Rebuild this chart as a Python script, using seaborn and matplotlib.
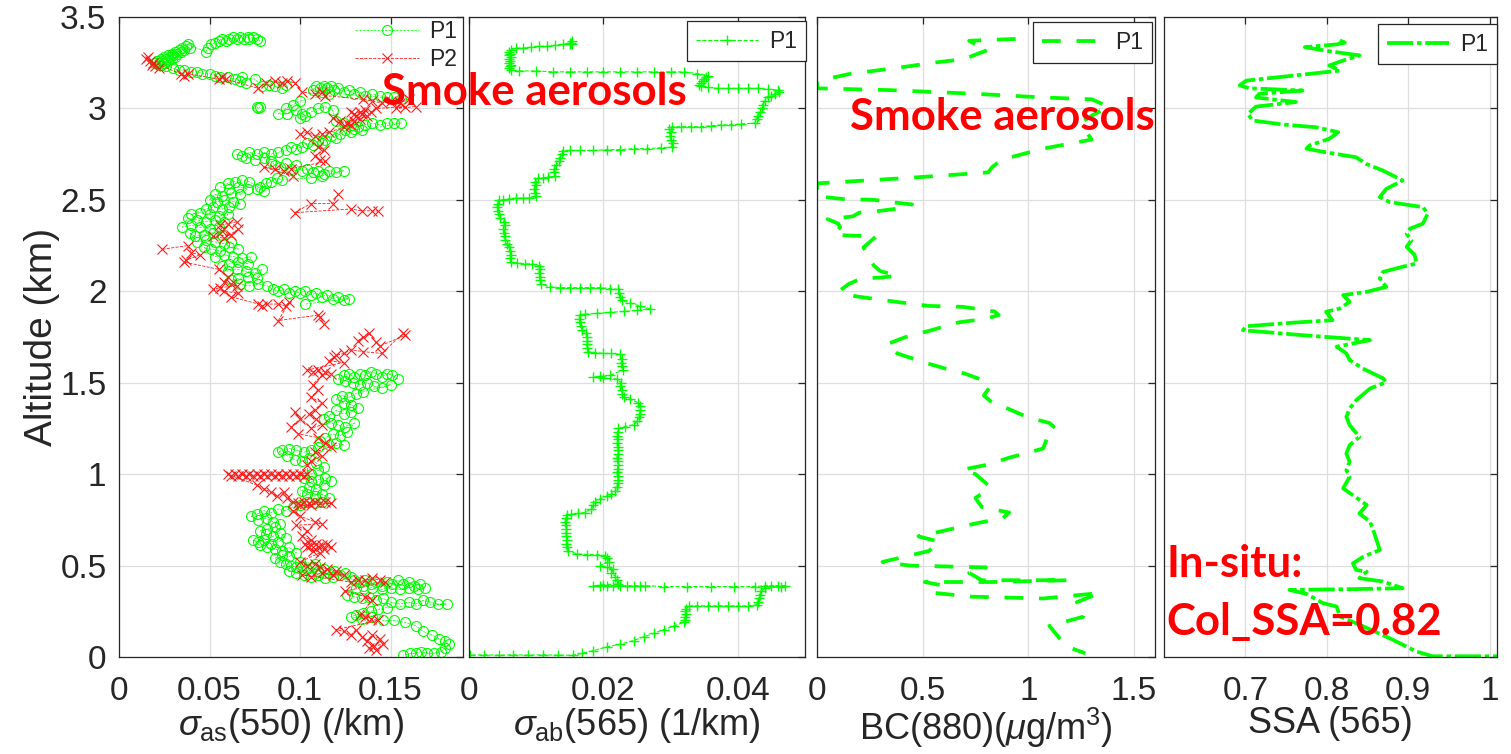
import matplotlib
matplotlib.use("Agg")
import matplotlib.pyplot as plt
import pandas as pd
import seaborn as sns
from matplotlib.ticker import FuncFormatter

# ---------------------------------------------------------------------------
# Vertical profiles: (value, altitude km) pairs ordered along the flight track.
# Scattering profiles are split into the separate runs of the measurement.
# ---------------------------------------------------------------------------
# Scattering coefficient at 550 nm, profile P1
sigma_as_p1 = [
    [
        (0.078, 3.37), (0.076, 3.38), (0.074, 3.39), (0.072, 3.38), (0.071, 3.39), (0.069, 3.38),
        (0.067, 3.39), (0.065, 3.38), (0.063, 3.39), (0.061, 3.38), (0.059, 3.37), (0.057, 3.38),
        (0.055, 3.37), (0.053, 3.36), (0.051, 3.35), (0.049, 3.33), (0.048, 3.31),
        (0.038, 3.35), (0.037, 3.34), (0.039, 3.33), (0.035, 3.33), (0.036, 3.32), (0.033, 3.32),
        (0.034, 3.31), (0.031, 3.31), (0.032, 3.30), (0.029, 3.30), (0.030, 3.29), (0.027, 3.29),
        (0.028, 3.28), (0.025, 3.28), (0.026, 3.27), (0.023, 3.27), (0.024, 3.26), (0.021, 3.26),
        (0.022, 3.25), (0.020, 3.25), (0.023, 3.24), (0.025, 3.25), (0.027, 3.26), (0.029, 3.27),
        (0.031, 3.28),
        (0.026, 3.23), (0.030, 3.22), (0.033, 3.21), (0.036, 3.21), (0.040, 3.20), (0.043, 3.20),
        (0.046, 3.19), (0.050, 3.19), (0.053, 3.18), (0.056, 3.17), (0.060, 3.17), (0.064, 3.16),
        (0.067, 3.15), (0.070, 3.14), (0.068, 3.17), (0.075, 3.16),
        (0.079, 3.12), (0.083, 3.13), (0.086, 3.12), (0.090, 3.11), (0.092, 3.13),
    ],
    [(0.076, 3.01), (0.077, 3.00), (0.078, 3.01)],
    [
        (0.107, 3.10), (0.109, 3.12), (0.111, 3.11), (0.113, 3.12), (0.115, 3.11), (0.117, 3.12),
        (0.119, 3.10), (0.121, 3.11), (0.124, 3.09), (0.127, 3.10), (0.130, 3.08), (0.133, 3.09),
        (0.136, 3.07), (0.140, 3.08), (0.144, 3.07), (0.148, 3.06), (0.152, 3.06), (0.156, 3.05),
        (0.112, 3.09), (0.116, 3.08),
        (0.100, 3.04), (0.096, 3.02), (0.092, 3.00), (0.088, 2.97), (0.093, 2.97), (0.098, 2.99),
        (0.101, 2.97), (0.100, 2.95), (0.103, 2.96), (0.106, 2.98), (0.110, 3.00), (0.114, 3.01),
        (0.118, 2.99),
        (0.120, 2.93), (0.124, 2.92), (0.128, 2.91), (0.132, 2.90), (0.136, 2.91), (0.140, 2.92),
        (0.144, 2.91), (0.148, 2.92), (0.152, 2.92), (0.156, 2.92),
        (0.134, 2.88), (0.130, 2.89), (0.128, 2.87), (0.125, 2.88), (0.122, 2.86), (0.120, 2.84),
        (0.117, 2.85), (0.114, 2.83), (0.112, 2.81), (0.110, 2.82), (0.107, 2.80), (0.104, 2.81),
        (0.101, 2.79), (0.098, 2.78), (0.095, 2.79), (0.092, 2.77),
        (0.088, 2.76), (0.084, 2.75), (0.080, 2.76), (0.076, 2.75), (0.072, 2.76), (0.068, 2.74),
        (0.065, 2.75), (0.070, 2.73), (0.075, 2.72), (0.080, 2.73), (0.084, 2.71),
        (0.086, 2.69), (0.089, 2.68), (0.092, 2.70), (0.095, 2.67), (0.098, 2.69), (0.101, 2.66),
        (0.104, 2.67), (0.107, 2.65), (0.110, 2.66), (0.113, 2.64), (0.116, 2.66), (0.120, 2.65),
        (0.124, 2.66), (0.112, 2.63), (0.106, 2.62),
        (0.090, 2.61), (0.087, 2.62), (0.084, 2.60), (0.081, 2.59), (0.078, 2.57), (0.076, 2.56),
        (0.080, 2.55),
        (0.072, 2.60), (0.068, 2.61), (0.064, 2.60), (0.060, 2.59),
        (0.056, 2.57), (0.061, 2.56), (0.066, 2.57), (0.071, 2.56),
        (0.067, 2.53), (0.062, 2.54), (0.057, 2.52), (0.053, 2.53),
        (0.050, 2.50), (0.054, 2.49), (0.058, 2.50), (0.063, 2.49), (0.067, 2.48),
        (0.061, 2.46), (0.057, 2.45), (0.052, 2.46), (0.048, 2.45),
        (0.040, 2.42), (0.045, 2.43), (0.050, 2.42), (0.055, 2.41), (0.060, 2.42),
        (0.058, 2.38), (0.053, 2.39), (0.048, 2.38), (0.043, 2.39), (0.038, 2.40),
        (0.035, 2.35), (0.040, 2.36), (0.045, 2.35), (0.050, 2.34), (0.055, 2.35),
        (0.057, 2.31), (0.052, 2.32), (0.047, 2.31), (0.042, 2.30), (0.039, 2.32),
        (0.043, 2.27), (0.048, 2.28), (0.053, 2.27), (0.058, 2.26), (0.062, 2.27),
        (0.066, 2.23), (0.061, 2.24), (0.056, 2.22), (0.051, 2.23), (0.047, 2.24),
        (0.053, 2.19), (0.058, 2.20), (0.063, 2.19), (0.068, 2.18), (0.073, 2.19),
        (0.071, 2.15), (0.066, 2.16), (0.061, 2.15), (0.057, 2.14),
        (0.060, 2.11), (0.065, 2.12), (0.070, 2.11), (0.075, 2.10), (0.079, 2.12),
        (0.076, 2.07), (0.071, 2.08), (0.066, 2.07), (0.062, 2.06),
        (0.067, 2.04), (0.072, 2.03), (0.077, 2.04), (0.082, 2.03),
        (0.085, 2.01), (0.088, 2.00), (0.091, 2.01), (0.094, 1.99), (0.097, 2.00), (0.100, 1.99),
        (0.103, 2.00), (0.106, 1.98), (0.109, 1.99), (0.112, 1.97), (0.115, 1.98), (0.118, 1.96),
        (0.121, 1.97), (0.124, 1.95), (0.127, 1.96), (0.103, 1.93),
    ],
    [
        (0.154, 1.52), (0.151, 1.54), (0.148, 1.55), (0.145, 1.53), (0.142, 1.55), (0.139, 1.56),
        (0.136, 1.54), (0.133, 1.55), (0.130, 1.53), (0.127, 1.55), (0.124, 1.54), (0.121, 1.52),
        (0.125, 1.51), (0.129, 1.50), (0.133, 1.49), (0.137, 1.50), (0.141, 1.48), (0.145, 1.47),
        (0.150, 1.49),
        (0.135, 1.45), (0.131, 1.44), (0.127, 1.42), (0.123, 1.43), (0.120, 1.41), (0.124, 1.39),
        (0.128, 1.38), (0.132, 1.36), (0.128, 1.34), (0.124, 1.33), (0.120, 1.35), (0.116, 1.32),
        (0.113, 1.30), (0.117, 1.28), (0.121, 1.27), (0.125, 1.26), (0.130, 1.28), (0.126, 1.23),
        (0.122, 1.21), (0.118, 1.22), (0.114, 1.20), (0.111, 1.18), (0.116, 1.16), (0.120, 1.17),
        (0.124, 1.16),
        (0.110, 1.15), (0.106, 1.13), (0.102, 1.12), (0.098, 1.13), (0.094, 1.14), (0.090, 1.13),
        (0.088, 1.12), (0.093, 1.10), (0.097, 1.08), (0.101, 1.07), (0.105, 1.09), (0.109, 1.06),
        (0.113, 1.04), (0.110, 1.02), (0.106, 1.00), (0.102, 0.98), (0.106, 0.96), (0.110, 0.97),
        (0.114, 0.98), (0.117, 0.96), (0.113, 0.94), (0.109, 0.92), (0.105, 0.93), (0.101, 0.91),
        (0.104, 0.89), (0.108, 0.88), (0.112, 0.89), (0.116, 0.87), (0.112, 0.85), (0.108, 0.84),
        (0.104, 0.85), (0.100, 0.83),
        (0.096, 0.82), (0.092, 0.80), (0.088, 0.81), (0.084, 0.79), (0.080, 0.80), (0.076, 0.78),
        (0.073, 0.77), (0.077, 0.75), (0.081, 0.76), (0.085, 0.74), (0.089, 0.73), (0.086, 0.71),
        (0.082, 0.70), (0.078, 0.69), (0.081, 0.67), (0.085, 0.66), (0.089, 0.68), (0.092, 0.65),
        (0.088, 0.63), (0.084, 0.62), (0.080, 0.64), (0.077, 0.63), (0.074, 0.64), (0.078, 0.61),
        (0.082, 0.60), (0.086, 0.59), (0.090, 0.58), (0.094, 0.60), (0.098, 0.57), (0.094, 0.55),
        (0.090, 0.56), (0.086, 0.54), (0.089, 0.52),
        (0.092, 0.51), (0.095, 0.50), (0.098, 0.49), (0.101, 0.50), (0.104, 0.48), (0.107, 0.49),
        (0.110, 0.47), (0.113, 0.48), (0.116, 0.46), (0.119, 0.47), (0.122, 0.45), (0.125, 0.46),
        (0.128, 0.44), (0.094, 0.47), (0.098, 0.46), (0.102, 0.45), (0.106, 0.44), (0.110, 0.45),
        (0.114, 0.43), (0.118, 0.44), (0.100, 0.52), (0.108, 0.51),
        (0.130, 0.42), (0.133, 0.41), (0.136, 0.42), (0.139, 0.40), (0.142, 0.41), (0.145, 0.39),
        (0.148, 0.41), (0.151, 0.40), (0.154, 0.42), (0.157, 0.40), (0.160, 0.41), (0.163, 0.39),
        (0.166, 0.40), (0.169, 0.38), (0.165, 0.37), (0.160, 0.38), (0.155, 0.37), (0.150, 0.38),
        (0.145, 0.37), (0.140, 0.38), (0.135, 0.39), (0.131, 0.38),
        (0.126, 0.34), (0.130, 0.33), (0.134, 0.32), (0.138, 0.33), (0.142, 0.31), (0.146, 0.32),
        (0.150, 0.30), (0.155, 0.29), (0.160, 0.30), (0.164, 0.29), (0.168, 0.31), (0.172, 0.30),
        (0.176, 0.29), (0.181, 0.29),
        (0.148, 0.27), (0.143, 0.26), (0.139, 0.25), (0.135, 0.24), (0.131, 0.23), (0.128, 0.22),
        (0.134, 0.21), (0.140, 0.22), (0.146, 0.20), (0.152, 0.20),
        (0.158, 0.19), (0.164, 0.17), (0.168, 0.14), (0.173, 0.12), (0.177, 0.10), (0.180, 0.09),
        (0.182, 0.07), (0.180, 0.05), (0.178, 0.03),
        (0.174, 0.02), (0.170, 0.02), (0.167, 0.03), (0.164, 0.02), (0.161, 0.02), (0.157, 0.01),
    ],
]

# Scattering coefficient at 550 nm, profile P2
sigma_as_p2 = [
    [
        (0.016, 3.28), (0.015, 3.27), (0.017, 3.26), (0.018, 3.24), (0.020, 3.23), (0.022, 3.22),
        (0.019, 3.25),
        (0.034, 3.19), (0.036, 3.18), (0.038, 3.19),
        (0.055, 3.16), (0.057, 3.17), (0.059, 3.16),
        (0.077, 3.11), (0.081, 3.14), (0.086, 3.15), (0.090, 3.14), (0.093, 3.15), (0.097, 3.14),
        (0.101, 3.09),
        (0.108, 3.08), (0.112, 3.09), (0.114, 3.07),
        (0.135, 3.05), (0.140, 3.04), (0.145, 3.03), (0.150, 3.04), (0.155, 3.03), (0.160, 3.05),
        (0.164, 3.01), (0.153, 3.00), (0.158, 3.01),
        (0.142, 3.00), (0.139, 2.98), (0.136, 2.99), (0.133, 2.98), (0.130, 2.97), (0.128, 2.98),
        (0.131, 2.96), (0.134, 2.97), (0.137, 2.96),
        (0.133, 2.94), (0.130, 2.93), (0.126, 2.92), (0.122, 2.93), (0.118, 2.95), (0.124, 2.90),
        (0.128, 2.91),
        (0.116, 2.87), (0.112, 2.86), (0.108, 2.85), (0.104, 2.87), (0.100, 2.86),
        (0.110, 2.79), (0.113, 2.77), (0.108, 2.74), (0.111, 2.72), (0.114, 2.71),
        (0.095, 2.67), (0.091, 2.66), (0.086, 2.67), (0.080, 2.68), (0.096, 2.63),
    ],
    [
        (0.121, 2.53), (0.118, 2.48), (0.106, 2.48), (0.097, 2.43), (0.128, 2.45), (0.134, 2.44),
        (0.140, 2.44), (0.143, 2.44),
    ],
    [
        (0.065, 2.38), (0.060, 2.37), (0.056, 2.36), (0.057, 2.33), (0.062, 2.31), (0.052, 2.30),
        (0.058, 2.29), (0.066, 2.34),
    ],
    [
        (0.024, 2.23),
        (0.038, 2.25), (0.040, 2.21), (0.045, 2.20), (0.037, 2.17), (0.036, 2.16),
        (0.055, 2.12), (0.060, 2.08), (0.058, 2.05), (0.062, 2.04), (0.065, 2.03), (0.056, 2.02),
        (0.052, 2.01), (0.058, 2.00), (0.066, 1.99), (0.062, 1.97),
        (0.077, 1.93), (0.079, 1.92), (0.082, 1.93), (0.088, 1.93), (0.092, 1.92), (0.094, 1.94),
        (0.088, 1.84),
        (0.110, 1.87), (0.111, 1.86), (0.113, 1.82),
    ],
    [
        (0.132, 1.73), (0.135, 1.75), (0.138, 1.77), (0.142, 1.72), (0.144, 1.70), (0.158, 1.76),
        (0.157, 1.77),
        (0.145, 1.66), (0.135, 1.67), (0.128, 1.68), (0.124, 1.66), (0.120, 1.65), (0.119, 1.64),
        (0.116, 1.62), (0.124, 1.61),
        (0.104, 1.57), (0.107, 1.56), (0.110, 1.57), (0.114, 1.56), (0.117, 1.55), (0.112, 1.54),
        (0.107, 1.49), (0.110, 1.46), (0.106, 1.42), (0.112, 1.39), (0.108, 1.35), (0.105, 1.33),
        (0.109, 1.30), (0.112, 1.27), (0.106, 1.25), (0.097, 1.34), (0.100, 1.30), (0.095, 1.26),
        (0.099, 1.22), (0.110, 1.20), (0.114, 1.17), (0.117, 1.15), (0.108, 1.12), (0.112, 1.10),
        (0.106, 1.07), (0.104, 1.05),
        (0.104, 1.00), (0.102, 0.99), (0.100, 1.00), (0.098, 0.99), (0.096, 1.00), (0.094, 0.99),
        (0.092, 1.00), (0.090, 0.99), (0.088, 1.00), (0.086, 0.99), (0.084, 1.00), (0.082, 0.99),
        (0.080, 1.00), (0.078, 0.99), (0.076, 1.00), (0.074, 0.99), (0.072, 1.00), (0.070, 0.99),
        (0.068, 1.00), (0.066, 0.99), (0.064, 1.00), (0.062, 0.99), (0.060, 1.00),
        (0.076, 0.94), (0.080, 0.92), (0.084, 0.90), (0.087, 0.88), (0.091, 0.90), (0.093, 0.87),
        (0.096, 0.85), (0.099, 0.84), (0.102, 0.85), (0.105, 0.84), (0.108, 0.85), (0.111, 0.84),
        (0.114, 0.85), (0.117, 0.84), (0.100, 0.83), (0.106, 0.83),
        (0.096, 0.80), (0.100, 0.77), (0.108, 0.74), (0.112, 0.73), (0.098, 0.72), (0.104, 0.69),
        (0.101, 0.66), (0.106, 0.64),
        (0.103, 0.62), (0.106, 0.61), (0.109, 0.62), (0.112, 0.61), (0.115, 0.62), (0.117, 0.60),
        (0.113, 0.59), (0.110, 0.60), (0.107, 0.58), (0.104, 0.60), (0.111, 0.57),
        (0.100, 0.52), (0.104, 0.50), (0.108, 0.51), (0.111, 0.49), (0.115, 0.48), (0.120, 0.47),
        (0.124, 0.45), (0.118, 0.45), (0.112, 0.46), (0.106, 0.44), (0.101, 0.45),
        (0.128, 0.41), (0.132, 0.42), (0.136, 0.42), (0.140, 0.43), (0.144, 0.42), (0.147, 0.41),
        (0.125, 0.36), (0.136, 0.33), (0.140, 0.31),
        (0.133, 0.23), (0.136, 0.22), (0.139, 0.21), (0.143, 0.20),
        (0.120, 0.15), (0.124, 0.14), (0.128, 0.12), (0.131, 0.15), (0.134, 0.11), (0.137, 0.09),
        (0.140, 0.12), (0.144, 0.10), (0.146, 0.07), (0.141, 0.06), (0.138, 0.05), (0.142, 0.04),
    ],
]

# Absorption coefficient at 565 nm, profile P1
sigma_ab_p1 = [
    (0.0153, 3.37), (0.0152, 3.36), (0.0150, 3.36), (0.0154, 3.35), (0.0151, 3.355),
    (0.0140, 3.35), (0.0128, 3.345), (0.0116, 3.34), (0.0104, 3.34), (0.0092, 3.335),
    (0.0080, 3.33), (0.0070, 3.33), (0.0062, 3.32),
    (0.0060, 3.31), (0.0061, 3.30), (0.0060, 3.29), (0.0062, 3.28), (0.0060, 3.27),
    (0.0061, 3.26), (0.0060, 3.25), (0.0062, 3.24), (0.0061, 3.23), (0.0060, 3.22), (0.0063, 3.21),
    (0.0075, 3.205), (0.0100, 3.205), (0.0125, 3.20), (0.0150, 3.20), (0.0175, 3.20),
    (0.0200, 3.20), (0.0225, 3.20), (0.0250, 3.20), (0.0275, 3.20), (0.0300, 3.20),
    (0.0320, 3.20), (0.0340, 3.19),
    (0.0355, 3.18), (0.0352, 3.17), (0.0350, 3.16), (0.0348, 3.15), (0.0345, 3.14),
    (0.0342, 3.13), (0.0345, 3.12), (0.0355, 3.115),
    (0.0370, 3.11), (0.0385, 3.11), (0.0400, 3.11), (0.0415, 3.11), (0.0430, 3.11),
    (0.0445, 3.105), (0.0460, 3.10), (0.0462, 3.09),
    (0.0455, 3.08), (0.0450, 3.07), (0.0445, 3.06), (0.0440, 3.04), (0.0438, 3.02),
    (0.0436, 3.00), (0.0433, 2.98), (0.0430, 2.96), (0.0428, 2.94), (0.0425, 2.92),
    (0.0405, 2.915), (0.0390, 2.91), (0.0375, 2.91), (0.0360, 2.905), (0.0345, 2.90),
    (0.0330, 2.90), (0.0315, 2.90), (0.0302, 2.90),
    (0.0298, 2.89), (0.0300, 2.87), (0.0299, 2.85), (0.0301, 2.83), (0.0303, 2.81), (0.0302, 2.79),
    (0.0285, 2.785), (0.0265, 2.78), (0.0245, 2.78), (0.0225, 2.775), (0.0205, 2.775),
    (0.0185, 2.77), (0.0165, 2.77), (0.0150, 2.77), (0.0140, 2.765),
    (0.0138, 2.75), (0.0136, 2.73), (0.0134, 2.71), (0.0130, 2.69), (0.0127, 2.67),
    (0.0126, 2.65), (0.0128, 2.63),
    (0.0118, 2.625), (0.0110, 2.62), (0.0103, 2.62),
    (0.0098, 2.60), (0.0099, 2.58), (0.0097, 2.56), (0.0098, 2.54), (0.0100, 2.52),
    (0.0090, 2.51), (0.0080, 2.51), (0.0070, 2.51), (0.0060, 2.505), (0.0050, 2.50), (0.0044, 2.50),
    (0.0043, 2.48), (0.0042, 2.46), (0.0043, 2.44), (0.0044, 2.42), (0.0046, 2.40),
    (0.0052, 2.38), (0.0053, 2.36), (0.0051, 2.34), (0.0052, 2.32), (0.0053, 2.30),
    (0.0054, 2.28), (0.0056, 2.26),
    (0.0060, 2.24), (0.0061, 2.22), (0.0062, 2.20), (0.0061, 2.18), (0.0062, 2.16),
    (0.0072, 2.155), (0.0083, 2.15), (0.0094, 2.15), (0.0104, 2.14),
    (0.0105, 2.12), (0.0104, 2.10), (0.0106, 2.08), (0.0105, 2.06), (0.0107, 2.04),
    (0.0120, 2.025), (0.0135, 2.02), (0.0150, 2.02), (0.0165, 2.02), (0.0180, 2.02),
    (0.0195, 2.02), (0.0210, 2.015), (0.0222, 2.01),
    (0.0223, 1.99), (0.0225, 1.97), (0.0228, 1.95),
    (0.0240, 1.935), (0.0255, 1.92), (0.0269, 1.905),
    (0.0250, 1.895), (0.0230, 1.89), (0.0210, 1.885), (0.0190, 1.88), (0.0172, 1.875), (0.0165, 1.87),
    (0.0164, 1.85), (0.0165, 1.83), (0.0166, 1.81), (0.0168, 1.79),
    (0.0174, 1.77), (0.0175, 1.75), (0.0176, 1.73), (0.0175, 1.71), (0.0176, 1.69), (0.0177, 1.67),
    (0.0188, 1.665), (0.0200, 1.66), (0.0212, 1.66), (0.0225, 1.655),
    (0.0227, 1.63), (0.0226, 1.61), (0.0228, 1.59), (0.0229, 1.57),
    (0.0210, 1.54), (0.0195, 1.535), (0.0185, 1.53), (0.0200, 1.525), (0.0220, 1.52),
    (0.0226, 1.50), (0.0225, 1.48), (0.0227, 1.46), (0.0228, 1.44), (0.0230, 1.42), (0.0240, 1.41),
    (0.0252, 1.39), (0.0254, 1.37), (0.0255, 1.35), (0.0254, 1.33), (0.0253, 1.31),
    (0.0250, 1.29), (0.0245, 1.27),
    (0.0232, 1.26), (0.0222, 1.25), (0.0221, 1.23), (0.0220, 1.21), (0.0221, 1.19),
    (0.0220, 1.17), (0.0221, 1.15), (0.0222, 1.13), (0.0221, 1.11), (0.0220, 1.09),
    (0.0221, 1.07), (0.0222, 1.05), (0.0221, 1.03), (0.0220, 1.01), (0.0221, 0.99),
    (0.0222, 0.97), (0.0221, 0.95), (0.0220, 0.93), (0.0218, 0.91), (0.0212, 0.89), (0.0205, 0.88),
    (0.0195, 0.865), (0.0188, 0.85), (0.0185, 0.83), (0.0182, 0.81),
    (0.0172, 0.79), (0.0162, 0.785), (0.0152, 0.78), (0.0146, 0.775),
    (0.0144, 0.76), (0.0143, 0.74), (0.0144, 0.72), (0.0145, 0.70), (0.0144, 0.68),
    (0.0145, 0.66), (0.0146, 0.64), (0.0145, 0.62), (0.0146, 0.60), (0.0148, 0.58),
    (0.0160, 0.565), (0.0175, 0.56), (0.0190, 0.56), (0.0203, 0.555),
    (0.0206, 0.54), (0.0208, 0.52), (0.0195, 0.50), (0.0205, 0.49), (0.0215, 0.48),
    (0.0212, 0.46), (0.0218, 0.44), (0.0220, 0.42), (0.0222, 0.40),
    (0.0200, 0.395), (0.0185, 0.39), (0.0195, 0.39), (0.0205, 0.39), (0.0215, 0.39),
    (0.0225, 0.39), (0.0235, 0.39), (0.0245, 0.39), (0.0255, 0.39), (0.0262, 0.39),
    (0.0290, 0.385), (0.0325, 0.385), (0.0360, 0.385), (0.0395, 0.385), (0.0425, 0.385),
    (0.0440, 0.39), (0.0450, 0.39), (0.0460, 0.39), (0.0470, 0.39), (0.0465, 0.385),
    (0.0440, 0.375), (0.0435, 0.36), (0.0433, 0.34), (0.0432, 0.32), (0.0430, 0.30), (0.0428, 0.285),
    (0.0415, 0.28), (0.0400, 0.28), (0.0385, 0.28), (0.0370, 0.28), (0.0355, 0.28),
    (0.0340, 0.28), (0.0328, 0.28),
    (0.0323, 0.265), (0.0322, 0.25), (0.0323, 0.235), (0.0322, 0.22), (0.0321, 0.205), (0.0320, 0.19),
    (0.0305, 0.17), (0.0290, 0.15), (0.0275, 0.13), (0.0260, 0.11), (0.0245, 0.09),
    (0.0225, 0.07), (0.0205, 0.055), (0.0185, 0.035), (0.0168, 0.02), (0.0155, 0.01),
    (0.0132, 0.01), (0.0110, 0.012), (0.0088, 0.01), (0.0066, 0.012), (0.0044, 0.01),
    (0.0022, 0.012), (0.0002, 0.01),
]

# Black carbon at 880 nm (ug/m3), profile P1
bc_p1 = [
    (0.94, 3.38), (0.82, 3.375), (0.72, 3.37), (0.75, 3.35), (0.81, 3.32), (0.74, 3.29),
    (0.70, 3.27), (0.55, 3.25), (0.43, 3.23), (0.30, 3.21), (0.16, 3.19), (0.00, 3.15),
    (0.00, 3.11), (0.35, 3.10), (0.75, 3.08), (1.07, 3.06), (1.30, 3.05), (1.38, 3.01),
    (1.30, 2.96), (1.26, 2.93), (1.27, 2.88), (1.30, 2.83), (1.07, 2.78), (0.875, 2.72),
    (0.83, 2.68), (0.81, 2.65), (0.43, 2.62), (0.00, 2.59),
    (0.00, 2.52), (0.12, 2.505), (0.27, 2.50), (0.37, 2.485), (0.45, 2.475), (0.40, 2.455),
    (0.30, 2.44), (0.20, 2.43), (0.17, 2.41), (0.10, 2.40), (0.05, 2.395), (0.10, 2.37),
    (0.11, 2.35), (0.08, 2.31), (0.15, 2.305), (0.28, 2.30), (0.25, 2.27), (0.22, 2.24),
    (0.24, 2.20), (0.25, 2.17), (0.27, 2.14), (0.30, 2.11), (0.38, 2.085), (0.30, 2.075),
    (0.21, 2.07), (0.15, 2.04), (0.11, 2.005), (0.14, 1.98), (0.23, 1.965), (0.39, 1.94),
    (0.53, 1.92), (0.69, 1.915), (0.84, 1.89), (0.86, 1.87), (0.80, 1.85), (0.67, 1.83),
    (0.55, 1.79), (0.42, 1.75), (0.33, 1.71), (0.38, 1.66), (0.51, 1.61), (0.63, 1.57),
    (0.70, 1.55), (0.77, 1.52),
    (0.80, 1.50), (0.82, 1.48), (0.79, 1.43), (0.82, 1.40), (0.88, 1.37), (1.00, 1.31),
    (1.10, 1.28), (1.12, 1.26), (1.08, 1.22), (1.09, 1.20), (1.07, 1.14), (0.91, 1.09),
    (0.80, 1.05), (0.69, 1.025), (0.75, 1.00), (0.78, 0.97), (0.82, 0.93), (0.79, 0.90),
    (0.75, 0.87), (0.78, 0.82), (0.91, 0.79), (0.88, 0.76), (0.75, 0.73), (0.56, 0.68),
    (0.48, 0.66), (0.58, 0.63), (0.53, 0.58), (0.42, 0.55), (0.31, 0.52), (0.44, 0.50),
    (0.80, 0.49), (0.72, 0.46), (0.78, 0.42), (1.19, 0.42), (0.83, 0.41), (0.51, 0.41),
    (0.60, 0.39), (0.56, 0.35), (0.73, 0.33), (1.07, 0.32), (1.34, 0.35), (1.23, 0.30),
    (1.27, 0.25), (1.26, 0.22), (1.10, 0.17), (1.15, 0.10), (1.20, 0.05), (1.27, 0.02),
]

# Single scattering albedo at 565 nm, profile P1
ssa_p1 = [
    (0.816, 3.372), (0.822, 3.36), (0.812, 3.35), (0.773, 3.335), (0.800, 3.315), (0.840, 3.290),
    (0.820, 3.262), (0.803, 3.235), (0.816, 3.207), (0.760, 3.180), (0.701, 3.152),
    (0.693, 3.126), (0.705, 3.110), (0.770, 3.098), (0.717, 3.080), (0.713, 3.060),
    (0.762, 3.035), (0.713, 3.010), (0.703, 2.970), (0.709, 2.934), (0.746, 2.912),
    (0.787, 2.897), (0.814, 2.870), (0.803, 2.834), (0.779, 2.798), (0.775, 2.780),
    (0.799, 2.760), (0.836, 2.733), (0.848, 2.697), (0.869, 2.660), (0.893, 2.606),
    (0.873, 2.560), (0.865, 2.515), (0.877, 2.488), (0.918, 2.460), (0.924, 2.425),
    (0.918, 2.370), (0.902, 2.342), (0.898, 2.315), (0.904, 2.279), (0.898, 2.243),
    (0.908, 2.197), (0.910, 2.152), (0.893, 2.134), (0.869, 2.106), (0.865, 2.070),
    (0.873, 2.024), (0.849, 1.997), (0.820, 1.979), (0.828, 1.942), (0.816, 1.906),
    (0.799, 1.888), (0.807, 1.842), (0.754, 1.827), (0.701, 1.809), (0.697, 1.787),
    (0.770, 1.760), (0.853, 1.733), (0.812, 1.697), (0.824, 1.660), (0.828, 1.624),
    (0.844, 1.578), (0.869, 1.524), (0.873, 1.504), (0.853, 1.468), (0.836, 1.404),
    (0.828, 1.359), (0.824, 1.313), (0.828, 1.268), (0.840, 1.204), (0.828, 1.158),
    (0.824, 1.113), (0.828, 1.067), (0.824, 1.022), (0.828, 0.985), (0.820, 0.922),
    (0.832, 0.885), (0.849, 0.831), (0.840, 0.785), (0.853, 0.740), (0.857, 0.694),
    (0.861, 0.640), (0.865, 0.585), (0.845, 0.549), (0.832, 0.512), (0.836, 0.476),
    (0.849, 0.467), (0.840, 0.431), (0.869, 0.413), (0.893, 0.376), (0.828, 0.371),
    (0.754, 0.367), (0.775, 0.345), (0.795, 0.295), (0.812, 0.276), (0.816, 0.222),
    (0.845, 0.167), (0.877, 0.103), (0.910, 0.030), (0.930, 0.004), (1.010, 0.004),
]

# Axis ticks
alt_ticks = [0, 0.5, 1, 1.5, 2, 2.5, 3, 3.5]
sigma_as_ticks = [0, 0.05, 0.1, 0.15]
sigma_ab_ticks = [0, 0.02, 0.04]
bc_ticks = [0, 0.5, 1, 1.5]
ssa_ticks = [0.7, 0.8, 0.9, 1.0]

# ---------------------------------------------------------------------------
sns.set_theme(style="white")
plt.rcParams.update({
    "font.family": ["Liberation Sans", "DejaVu Sans"],
    "mathtext.fontset": "custom",
    "mathtext.rm": "Liberation Sans",
    "mathtext.it": "Liberation Sans:italic",
    "mathtext.bf": "Liberation Sans:bold",
    "axes.edgecolor": "#262626",
    "axes.linewidth": 0.9,
    "text.color": "#262626",
    "axes.labelcolor": "#262626",
    "xtick.color": "#262626",
    "ytick.color": "#262626",
})

GREEN = "#00ff00"
RED = "#ff1a1a"
W, H = 1511, 754
fig = plt.figure(figsize=(W / 100, H / 100), dpi=100)
fig.patch.set_facecolor("white")


def add_panel(left, right, top=17, bottom=657):
    return fig.add_axes([left / W, 1 - bottom / H, (right - left) / W, (bottom - top) / H])


ax1 = add_panel(119, 463)
ax2 = add_panel(469, 805)
ax3 = add_panel(817, 1155)
ax4 = add_panel(1164, 1497)
axes = [ax1, ax2, ax3, ax4]


def frame(points):
    return pd.DataFrame(points, columns=["value", "alt"])


def frame_runs(runs):
    rows = [(v, a, k) for k, run in enumerate(runs) for v, a in run]
    return pd.DataFrame(rows, columns=["value", "alt", "run"])


common = dict(x="value", y="alt", sort=False, estimator=None, orient="y")

# Panel 1: scattering, two profiles
sns.lineplot(data=frame_runs(sigma_as_p1), units="run", ax=ax1, color=GREEN,
             linestyle="--", linewidth=0.5, marker="o", markersize=7.2,
             markerfacecolor="none", markeredgecolor=GREEN, markeredgewidth=0.8,
             label="P1", **common)
sns.lineplot(data=frame_runs(sigma_as_p2), units="run", ax=ax1, color=RED,
             linestyle="--", linewidth=0.6, marker="x", markersize=6.8,
             markeredgecolor=RED, markeredgewidth=0.8, label="P2", **common)

# Panel 2: absorption
sns.lineplot(data=frame(sigma_ab_p1), ax=ax2, color=GREEN, linestyle="--", linewidth=0.8,
             marker="+", markersize=7.5, markeredgecolor=GREEN, markeredgewidth=1.0,
             label="P1", **common)

# Panel 3: black carbon
sns.lineplot(data=frame(bc_p1), ax=ax3, color=GREEN, linestyle=(0, (5, 4.2)),
             linewidth=2.7, label="P1", **common)

# Panel 4: single scattering albedo
sns.lineplot(data=frame(ssa_p1), ax=ax4, color=GREEN, linestyle=(0, (7, 1.0, 1.2, 1.0)),
             linewidth=2.7, label="P1", **common)

fmt = FuncFormatter(lambda v, p: f"{v:g}")
limits = [(0, 0.19), (0, 0.05), (0, 1.6), (0.6, 1.009)]
xticks = [sigma_as_ticks, sigma_ab_ticks, bc_ticks, ssa_ticks]
xlabels = [r"$\sigma_{\mathrm{as}}$(550) (/km)", r"$\sigma_{\mathrm{ab}}$(565) (1/km)",
           r"BC(880)($\mu$g/m$^3$)", "SSA (565)"]

for i, ax in enumerate(axes):
    ax.set_facecolor("white")
    ax.set_xlim(*limits[i])
    ax.set_ylim(0, 3.5)
    ax.set_xticks(xticks[i])
    ax.set_yticks(alt_ticks)
    ax.xaxis.set_major_formatter(fmt)
    ax.yaxis.set_major_formatter(fmt)
    ax.grid(True, color="#dedede", linewidth=0.9)
    ax.set_axisbelow(True)
    ax.tick_params(direction="in", length=5, width=0.9, top=True, right=True,
                   labelsize=24, colors="#262626")
    ax.tick_params(axis="x", pad=14)
    ax.tick_params(axis="y", pad=9)
    ax.set_xlabel(xlabels[i], fontsize=26, labelpad=-1)
    if i > 0:
        ax.tick_params(labelleft=False)
        ax.set_ylabel("")
    for s in ax.spines.values():
        s.set_visible(True)

ax1.set_ylabel("Altitude (km)", fontsize=28, labelpad=0)

# Legends: one entry per profile
handles, labels = ax1.get_legend_handles_labels()
first = {}
for h, l in zip(handles, labels):
    first.setdefault(l, h)
ax1.legend(list(first.values()), list(first.keys()), loc="upper right",
           bbox_to_anchor=(1.0, 1.005), frameon=False, fontsize=16.5,
           handlelength=2.8, handletextpad=0.45, labelspacing=0.25, borderaxespad=0.05,
           borderpad=0.2)
boxed = dict(loc="upper right", fontsize=16.5, handlelength=2.7, handletextpad=0.5,
             borderpad=0.38, borderaxespad=0, fancybox=False, framealpha=1,
             edgecolor="#262626", facecolor="white")
for ax, anchor in [(ax2, (1.003, 0.994)), (ax3, (0.991, 0.992)), (ax4, (1.0, 0.989))]:
    leg = ax.legend(bbox_to_anchor=anchor, **boxed)
    leg.get_frame().set_linewidth(0.9)

# Annotations
note = dict(color="#ff0000", fontsize=31.5, fontweight="bold", family=["Lato", "DejaVu Sans"],
            ha="left", va="baseline")
fig.text(382 / W, 1 - 105 / H, "Smoke aerosols", **note)
fig.text(850 / W, 1 - 130 / H, "Smoke aerosols", **note)
fig.text(1166 / W, 1 - 577 / H, "In-situ:", **note)
fig.text(1166 / W, 1 - 635 / H, "Col_SSA=0.82", **note)

fig.savefig("out.png", dpi=100, facecolor="white")
